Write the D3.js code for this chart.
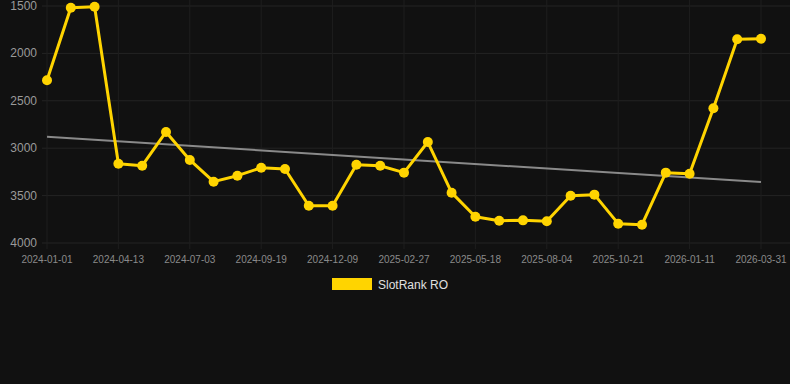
<!DOCTYPE html>
<html>
<head>
<meta charset="utf-8">
<script src="https://cdn.jsdelivr.net/npm/d3@7"></script>
<style>
  html, body { margin: 0; padding: 0; background: #111111; }
  svg { display: block; font-family: "Liberation Sans", Arial, sans-serif; }
</style>
</head>
<body>
<svg id="chart" width="790" height="384"></svg>
<script>
// dates of each sample (only every 3rd is labelled on the axis)
const dates = [
  "2024-01-01", "2024-02-04", "2024-03-09", "2024-04-13", "2024-05-10", "2024-06-06",
  "2024-07-03", "2024-07-29", "2024-08-24", "2024-09-19", "2024-10-16", "2024-11-12",
  "2024-12-09", "2025-01-04", "2025-01-31", "2025-02-27", "2025-03-25", "2025-04-21",
  "2025-05-18", "2025-06-13", "2025-07-09", "2025-08-04", "2025-08-30", "2025-09-25",
  "2025-10-21", "2025-11-17", "2025-12-14", "2026-01-11", "2026-02-06", "2026-03-05",
  "2026-03-31"
];
const rank = [
  2284, 1518, 1507, 3164, 3185, 2829,
  3124, 3353, 3290, 3206, 3219, 3607,
  3607, 3174, 3185, 3258, 2935, 3469,
  3723, 3765, 3761, 3771, 3501, 3490,
  3796, 3807, 3258, 3269, 2579, 1851,
  1845
];
const trendEnds = [2880, 3357];
const yTicks = [1500, 2000, 2500, 3000, 3500, 4000];
const seriesName = "SlotRank RO";

const svg = d3.select("#chart");
const yellow = "#FFD400";

const x = d3.scalePoint().domain(dates).range([47, 761]);
const y = d3.scaleLinear().domain([1500, 4000]).range([6, 243]);

const labelled = dates.filter((d, i) => i % 3 === 0);

// grid
const grid = svg.append("g");
grid.selectAll("line.h")
  .data(yTicks)
  .join("line")
    .attr("x1", 42).attr("x2", 790)
    .attr("y1", d => y(d)).attr("y2", d => y(d))
    .attr("stroke", "#242424").attr("stroke-width", 1);
grid.selectAll("line.v")
  .data(labelled)
  .join("line")
    .attr("x1", d => x(d)).attr("x2", d => x(d))
    .attr("y1", 0).attr("y2", 249)
    .attr("stroke", "#1e1e1e").attr("stroke-width", 1);

// y axis labels
svg.append("g").selectAll("text")
  .data(yTicks)
  .join("text")
    .attr("x", 37)
    .attr("y", d => y(d) + 4)
    .attr("text-anchor", "end")
    .attr("fill", "#9a9a9a")
    .style("font-size", "12px")
    .text(d => d);

// x axis labels
svg.append("g").selectAll("text")
  .data(labelled)
  .join("text")
    .attr("x", d => x(d))
    .attr("y", 263)
    .attr("text-anchor", "middle")
    .attr("fill", "#8a8a8a")
    .style("font-size", "10px")
    .text(d => d);

// trend line
svg.append("line")
  .attr("x1", x(dates[0])).attr("x2", x(dates[dates.length - 1]))
  .attr("y1", y(trendEnds[0])).attr("y2", y(trendEnds[1]))
  .attr("stroke", "#8a8a8a").attr("stroke-width", 2);

// series
const line = d3.line()
  .x((d, i) => x(dates[i]))
  .y(d => y(d));

svg.append("path")
  .datum(rank)
  .attr("d", line)
  .attr("fill", "none")
  .attr("stroke", yellow)
  .attr("stroke-width", 3)
  .attr("stroke-linejoin", "round");

svg.append("g").selectAll("circle")
  .data(rank)
  .join("circle")
    .attr("cx", (d, i) => x(dates[i]))
    .attr("cy", d => y(d))
    .attr("r", 5)
    .attr("fill", yellow);

// legend
const legend = svg.append("g");
legend.append("rect")
  .attr("x", 332).attr("y", 278)
  .attr("width", 40).attr("height", 12)
  .attr("fill", yellow);
legend.append("text")
  .attr("x", 378).attr("y", 289)
  .attr("fill", "#e0e0e0")
  .style("font-size", "12px")
  .text(seriesName);
</script>
</body>
</html>
